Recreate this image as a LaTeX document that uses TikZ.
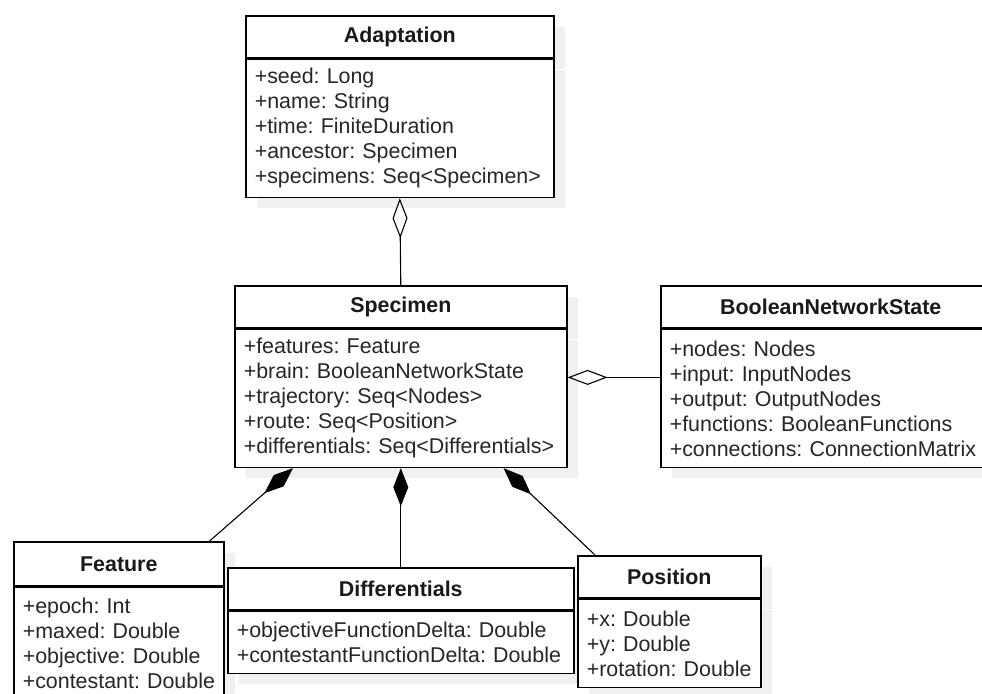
\documentclass[tikz,border=0pt]{standalone}
\usepackage{fontspec}
\setmainfont{Liberation Sans}
\usetikzlibrary{arrows.meta,shadows}

\newcommand{\classfont}{\fontsize{10.7}{12.5}\selectfont\frenchspacing\hyphenpenalty=10000\relax}

\begin{document}
\begin{tikzpicture}[x=0.5pt,y=-0.5pt]

\tikzset{classhead/.style={draw, line width=0.8pt, fill=white, anchor=north west,
                           inner sep=0pt, minimum height=21pt, text=black!90,
                           font=\classfont\bfseries,
                           drop shadow={shadow xshift=5.5pt, shadow yshift=-5.5pt,
                                        fill=black!6, opacity=1}},
         classbody/.style={draw, line width=0.8pt, fill=white, anchor=north west,
                           inner xsep=4.5pt, inner ysep=0pt, align=left, text=black!85,
                           font=\classfont,
                           drop shadow={shadow xshift=5.5pt, shadow yshift=-5.5pt,
                                        fill=black!6, opacity=1}},
         aggregation/.style={line width=0.55pt,
                             -{Diamond[open, length=20pt, width=7.5pt, line width=0.55pt]}},
         composition/.style={line width=0.55pt,
                             -{Diamond[length=19pt, width=7.5pt]}}}

\useasboundingbox (0,0) rectangle (982,693);
\clip (0,0) rectangle (982,693);

% top

\node[classhead, minimum width=154pt] (adaptation) at (245,15) {Adaptation};
\node[classbody, text width=145pt, minimum height=69pt] (adaptation-body)
     at (adaptation.south west)
     {+seed: Long\\+name: String\\+time: FiniteDuration\\+ancestor: Specimen\\+specimens: Seq<Specimen>};

% middle row

\node[classhead, minimum width=166pt] (specimen) at (234,285) {Specimen};
\node[classbody, text width=157pt, minimum height=69pt] (specimen-body)
     at (specimen.south west)
     {+features: Feature\\+brain: BooleanNetworkState\\+trajectory: Seq<Nodes>\\+route: Seq<Position>\\+differentials: Seq<Differentials>};

\node[classhead, minimum width=170pt] (network) at (660,285) {BooleanNetworkState};
\node[classbody, text width=161pt, minimum height=69pt] (network-body)
     at (network.south west)
     {+nodes: Nodes\\+input: InputNodes\\+output: OutputNodes\\+functions: BooleanFunctions\\+connections: ConnectionMatrix};

% bottom row

\node[classhead, minimum width=105pt, minimum height=22pt] (feature) at (13,541) {Feature};
\node[classbody, text width=96pt, minimum height=56pt] (feature-body)
     at (feature.south west)
     {+epoch: Int\\+maxed: Double\\+objective: Double\\\mbox{+contestant: Double}};

\node[classhead, minimum width=173pt] (differentials) at (227,567) {Differentials};
\node[classbody, text width=164pt, minimum height=31pt] (differentials-body)
     at (differentials.south west)
     {+objectiveFunctionDelta: Double\\+contestantFunctionDelta: Double};

\node[classhead, minimum width=91.5pt] (position) at (577,555) {Position};
\node[classbody, text width=82.5pt, minimum height=44pt] (position-body)
     at (position.south west)
     {+x: Double\\+y: Double\\+rotation: Double};

% associations

\draw[aggregation] (specimen.north) -- (adaptation-body.south);
\draw[aggregation] ([yshift=10.5pt]network-body.west) -- ([yshift=10.5pt]specimen-body.east);

\draw[composition] ([xshift=-7.5pt]feature.north east) -- ([xshift=29.5pt]specimen-body.south west);
\draw[composition] (differentials.north) -- (specimen-body.south);
\draw[composition] ([xshift=9pt]position.north west) -- ([xshift=-32pt]specimen-body.south east);

\end{tikzpicture}
\end{document}
